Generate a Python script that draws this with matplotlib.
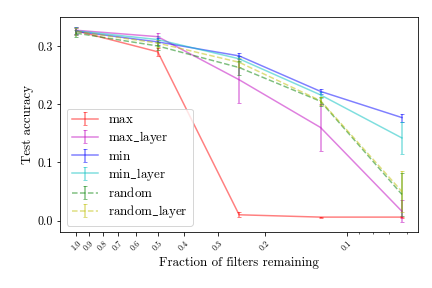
import matplotlib
matplotlib.use("Agg")
import matplotlib.pyplot as plt
from matplotlib.ticker import NullFormatter

plt.rcParams['font.family'] = 'serif'
plt.rcParams['font.serif'] = ['cmr10', 'DejaVu Serif']
plt.rcParams['mathtext.fontset'] = 'cm'
plt.rcParams['axes.unicode_minus'] = False

fractions = [1.0, 0.5, 0.25, 0.125, 0.0625]

acc_max = [0.326, 0.290, 0.010, 0.006, 0.006]
err_max = [0.006, 0.007, 0.004, 0.001, 0.001]
acc_max_layer = [0.327, 0.316, 0.242, 0.160, 0.016]
err_max_layer = [0.006, 0.006, 0.040, 0.040, 0.019]
acc_min = [0.325, 0.307, 0.283, 0.222, 0.177]
err_min = [0.006, 0.006, 0.005, 0.004, 0.007]
acc_min_layer = [0.326, 0.311, 0.278, 0.216, 0.142]
err_min_layer = [0.006, 0.006, 0.005, 0.005, 0.028]
acc_random = [0.322, 0.300, 0.263, 0.205, 0.045]
err_random = [0.006, 0.007, 0.012, 0.008, 0.037]
acc_random_layer = [0.325, 0.305, 0.272, 0.206, 0.050]
err_random_layer = [0.006, 0.006, 0.008, 0.007, 0.035]

xtick_values = [1.0, 0.9, 0.8, 0.7, 0.6, 0.5, 0.4, 0.3, 0.2, 0.1]

series = [
    (acc_max, err_max, r"$\mathrm{max}$", "r", "-"),
    (acc_max_layer, err_max_layer, r"$\mathrm{max\_layer}$", "m", "-"),
    (acc_min, err_min, r"$\mathrm{min}$", "b", "-"),
    (acc_min_layer, err_min_layer, r"$\mathrm{min\_layer}$", "c", "-"),
    (acc_random, err_random, r"$\mathrm{random}$", "g", "--"),
    (acc_random_layer, err_random_layer, r"$\mathrm{random\_layer}$", "y", "--"),
]

fig, ax = plt.subplots(figsize=(6, 4), dpi=72)
fig.subplots_adjust(left=0.139, right=0.968, bottom=0.194, top=0.941)

for values, errors, name, color, style in series:
    ax.errorbar(fractions, values, yerr=errors, color=color, linestyle=style,
                alpha=0.5, capsize=2, linewidth=1.5, label=name)

ax.set_xscale('log')
ax.set_xticks(xtick_values)
ax.set_xticklabels([f"{v:.1f}" for v in xtick_values], rotation=45, fontsize=8)
ax.xaxis.set_minor_formatter(NullFormatter())
ax.invert_xaxis()
ax.set_yticks([0.0, 0.1, 0.2, 0.3])
ax.tick_params(axis='y', labelsize=12)

ax.set_xlabel("Fraction of filters remaining", fontsize=13)
ax.set_ylabel("Test accuracy", fontsize=13)
ax.legend(loc='lower left', fontsize=13, labelspacing=0.25)

fig.savefig("out.png", dpi=72)
